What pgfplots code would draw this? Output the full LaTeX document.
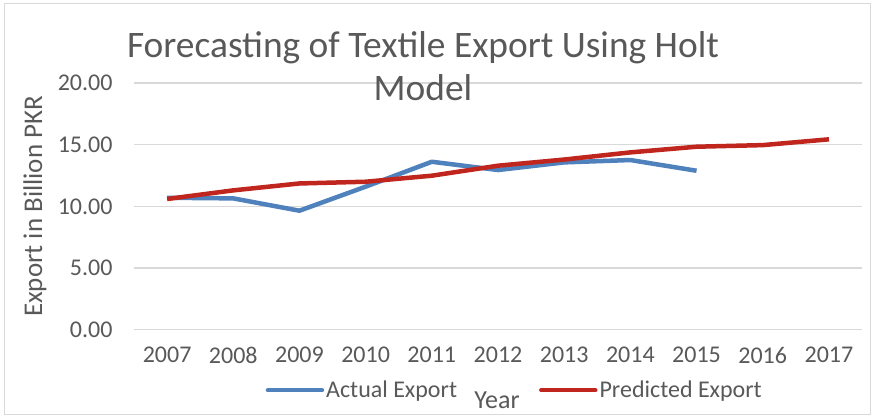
\documentclass[border=0pt]{standalone}
\usepackage{fontspec}
\setmainfont{Carlito}
\usepackage{pgfplots}
\pgfplotsset{compat=1.18}
\definecolor{txt}{HTML}{595959}
\definecolor{gridc}{HTML}{D9D9D9}
\definecolor{blu}{HTML}{4F81BD}
\definecolor{rd}{RGB}{192,38,30}
\begin{document}
\begin{tikzpicture}[x=1pt,y=1pt]
\path[use as bounding box, fill=white] (0,0) rectangle (874,419);
\draw[gridc, line width=1pt] (4,4) rectangle (870,415);
\begin{axis}[
  at={(134pt,89.3pt)}, anchor=south west,
  scale only axis, width=728pt, height=246.6pt,
  xmin=-0.5, xmax=10.5, ymin=0, ymax=20,
  axis line style={draw=none},
  xtick={0,...,10},
  xticklabels={2007,2008,2009,2010,2011,2012,2013,2014,2015,2016,2017},
  ytick={0,5,10,15,20},
  xmajorgrids=false, ymajorgrids=true, grid style={draw=gridc, line width=1.2pt},
  major tick length=0pt,
  /pgf/number format/assume math mode=true,
  yticklabel={\pgfmathprintnumber[fixed,fixed zerofill,precision=2]{\tick}},
  ticklabel style={font=\fontsize{24}{28}\selectfont, text=txt},
  xticklabel style={yshift=-14pt},
  yticklabel style={xshift=-18pt},
  ylabel={Export in Billion PKR},
  ylabel style={at={(axis description cs:-0.136,0.5)}, anchor=center, font=\fontsize{27}{32}\selectfont, text=txt},
  legend columns=2,
  legend style={at={(0.1806,-0.2455)}, anchor=west, draw=none, fill=none, inner sep=0pt,
    font=\fontsize{24}{28}\selectfont, text=txt, /tikz/every even column/.append style={column sep=80pt}},
  legend cell align=left,
  legend image code/.code={\draw[#1, line cap=round] (0pt,0pt) -- (54pt,0pt);},
]
\addplot[blu, line width=4.5pt, line join=round] coordinates {
(0,10.70) (1,10.65) (2,9.65) (3,11.6) (4,13.62) (5,12.95) (6,13.57) (7,13.76) (8,12.89)};
\addlegendentry{Actual Export}
\addplot[rd, line width=4.5pt, line join=round] coordinates {
(0,10.6) (1,11.3) (2,11.86) (3,12.0) (4,12.49) (5,13.3) (6,13.8) (7,14.38) (8,14.84) (9,14.97) (10,15.44)};
\addlegendentry{Predicted Export}
\end{axis}
\node[text=txt, font=\fontsize{37.4}{43}\selectfont, align=center] at (423,353) {Forecasting of Textile Export Using Holt\\Model};
\node[text=txt, font=\fontsize{26}{30}\selectfont] at (497,19) {Year};
\end{tikzpicture}
\end{document}
